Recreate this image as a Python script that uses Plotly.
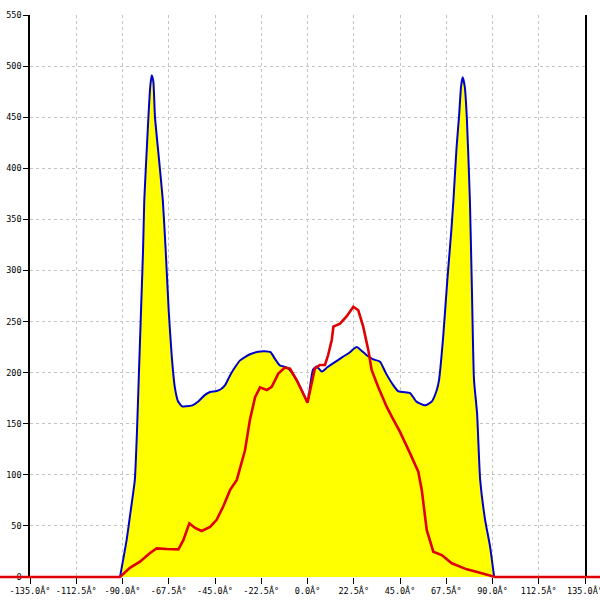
import plotly.graph_objects as go

# Blue series (filled yellow)
blue_x = [-91.2, -88, -86, -84, -83, -82, -81, -80, -79.4, -78.4, -77.4, -76.5, -75.8, -75, -74.2,
          -72.3, -70.4, -69, -67.5, -66, -64.5, -63, -61, -59, -56, -53, -50, -47.4, -44.2, -42,
          -40, -38, -36, -32.8, -28, -24, -21, -18, -16, -13.4, -10, -7, -3.6, 0, 1.5, 2.7, 4.5,
          6.9, 9.5, 12.4, 17.3, 20, 23.9, 26, 28.8, 32, 35.3, 38, 41.6, 44, 46.5, 49.9, 53, 57.2,
          60.4, 62.9, 64, 66, 68, 70, 71, 72.5, 73.7, 74.7, 75.5, 76.5, 77.5, 79, 80, 81, 82.5,
          84, 86.4, 88.8, 90.8]
blue_y = [0, 36, 65, 95, 140, 200, 260, 320, 369, 410, 450, 480, 491, 485, 450,
          410, 369, 320, 260, 215, 185, 172, 167, 167, 168, 172, 178, 181, 182, 184,
          188, 196, 203, 212, 218, 220.5, 221, 220, 214, 207, 205, 198, 186, 171.6, 190, 203, 206,
          201, 205, 209, 215.6, 219, 225, 222, 217, 213, 210.7, 200, 188, 182, 181, 180, 171.6, 168,
          171.6, 183, 193, 235, 290, 340, 369, 420, 450, 480, 489, 480, 450, 369, 280, 193, 160,
          95, 56, 30, 0]

# Red series
red_x = [-150, -91.2, -86.4, -81.5, -76.6, -73.4, -68.5, -62.8, -60.4, -57.5, -54.7, -51.5, -47.4,
         -44.2, -41, -37.7, -34.4, -30.4, -28, -25.5, -23.1, -19.8, -17.4, -14.2, -11, -8.5, -5.3,
         -2, 0, 2, 3.6, 6, 8.5, 10, 11.8, 12.6, 15.8, 19, 22.3, 24.7, 27.1, 29.6, 31.2, 34.4, 38.5,
         41, 43, 45, 49.9, 53.9, 55.6, 58, 61.2, 65.3, 70.2, 77.5, 83.9, 91.2, 150]
red_y = [0, 0, 9, 15, 23.5, 28, 27.4, 27, 36, 52.5, 48, 45, 49,
         56, 69, 85, 95, 124, 154, 176, 185.6, 183, 186, 199, 205, 204, 193,
         180, 170.6, 189.5, 204, 207.5, 207.5, 217, 232, 245, 248, 255, 264.5, 261, 245, 222, 202.6, 186, 166.7,
         157, 150, 142, 121, 103, 85, 46, 24.8, 21.5, 13.4, 7.5, 4.2, 0, 0]

x_ticks = [-135, -112.5, -90, -67.5, -45, -22.5, 0, 22.5, 45, 67.5, 90, 112.5, 135]
x_labels = ["%.1fÂ°" % v for v in x_ticks]
y_ticks = [0, 50, 100, 150, 200, 250, 300, 350, 400, 450, 500, 550]

font = dict(family="DejaVu Sans Mono", size=8.5, color="black")

fig = go.Figure()
fig.add_trace(go.Scatter(x=blue_x, y=blue_y, mode="lines", fill="tozeroy",
                         fillcolor="#ffff00",
                         line=dict(color="#0000cc", width=2, shape="spline", smoothing=0.5),
                         xaxis="x", yaxis="y", showlegend=False, hoverinfo="skip"))
fig.add_trace(go.Scatter(x=red_x, y=red_y, mode="lines",
                         line=dict(color="#e00000", width=2.6, shape="linear"),
                         xaxis="x2", yaxis="y2", showlegend=False, hoverinfo="skip"))

H = 600.0
top = 15.0
plot_h = H - top            # plot area height (bottom margin 0)
y0_px = 577.0               # pixel row of value 0
y_bottom_dom = (H - y0_px) / plot_h
ky = (y0_px - top) / 550.0  # px per unit
kx = 555 / 270.0

fig.update_layout(
    width=600, height=600,
    margin=dict(l=0, r=0, t=15, b=0, pad=0),
    paper_bgcolor="white", plot_bgcolor="rgba(0,0,0,0)",
    xaxis=dict(domain=[0.05, 0.975], range=[-135, 135], tickvals=x_ticks, ticktext=x_labels,
               showgrid=True, gridcolor="#c4c4c4", griddash="3px,3px", gridwidth=1,
               zeroline=False, showline=False, anchor="y",
               ticks="outside", ticklen=6, tickcolor="black", tickfont=font, automargin=False,
               ticklabeloverflow="allow"),
    yaxis=dict(domain=[y_bottom_dom, 1], range=[0, 550], tickvals=y_ticks, showgrid=True,
               gridcolor="#c4c4c4", griddash="3px,3px", gridwidth=1, zeroline=False,
               showline=True, mirror=True, linecolor="black", linewidth=1.5, ticks="outside",
               ticklen=5, tickcolor="black", tickfont=font, automargin=False, anchor="x",
               ticklabeloverflow="allow"),
    xaxis2=dict(domain=[0, 1], range=[-135 - 30 / kx, 135 + 15 / kx], visible=False,
                anchor="y2", showgrid=False, zeroline=False),
    yaxis2=dict(domain=[0, 1], range=[-(H - y0_px) / ky, 550], visible=False, anchor="x2",
                showgrid=False, zeroline=False),
)

fig.write_html("out.html", post_script="document.body.style.margin='0';",
               config={"displayModeBar": False})
